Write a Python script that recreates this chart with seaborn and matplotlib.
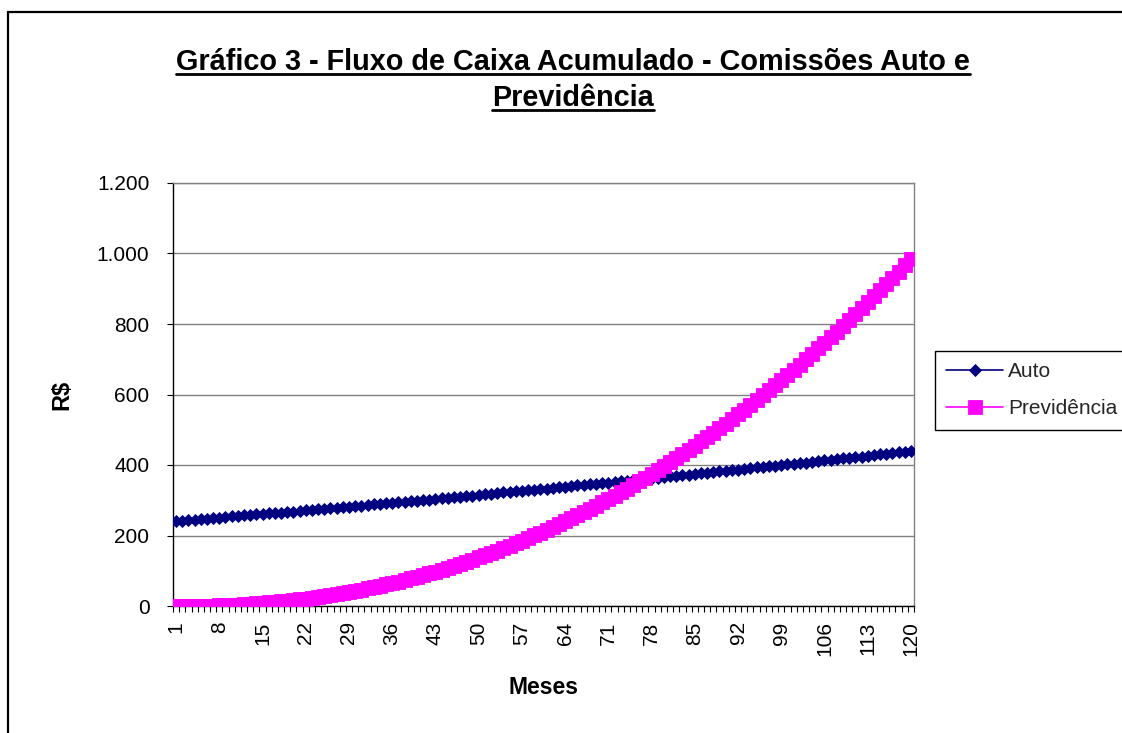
import matplotlib
matplotlib.use("Agg")
import matplotlib.pyplot as plt
import seaborn as sns
import pandas as pd
import numpy as np
from matplotlib.lines import Line2D
from matplotlib.ticker import FuncFormatter, FixedLocator

# ---------------- data ----------------
meses = list(range(1, 121))

auto = [241, 242, 244, 245, 247, 248, 250, 251, 252, 254,
        255, 257, 258, 260, 261, 263, 264, 265, 267, 268,
        270, 271, 273, 274, 276, 277, 279, 280, 282, 284,
        285, 287, 288, 290, 291, 293, 294, 296, 297, 299,
        301, 302, 304, 305, 307, 309, 310, 312, 313, 315,
        317, 318, 320, 322, 323, 325, 327, 328, 330, 332,
        333, 335, 337, 338, 340, 342, 343, 345, 347, 348,
        350, 352, 354, 355, 357, 359, 361, 362, 364, 366,
        368, 369, 371, 373, 375, 376, 378, 380, 382, 384,
        385, 387, 389, 391, 393, 394, 396, 398, 400, 402,
        404, 406, 407, 409, 411, 413, 415, 417, 419, 421,
        422, 424, 426, 428, 430, 432, 434, 436, 438, 440]

previdencia = [0.0, 0.0, 0.1, 0.3, 0.5, 0.9, 1.3, 1.8, 2.5, 3.2,
               4.1, 5.0, 6.1, 7.3, 8.6, 10.0, 11.5, 13.2, 14.9, 16.8,
               18.9, 21.0, 23.3, 25.7, 28.3, 30.9, 33.8, 36.7, 39.8, 43.0,
               46.4, 49.9, 53.5, 57.3, 61.2, 65.3, 69.5, 73.8, 78.3, 83.0,
               87.8, 92.7, 97.8, 103.0, 108.4, 114.0, 119.6, 125.5, 131.5, 137.6,
               143.9, 150.4, 157.0, 163.8, 170.7, 177.8, 185.1, 192.5, 200.1, 207.8,
               215.7, 223.8, 232.0, 240.4, 248.9, 257.6, 266.5, 275.5, 284.7, 294.0,
               303.6, 313.3, 323.2, 333.2, 343.4, 353.8, 364.3, 375.0, 385.9, 396.9,
               408.2, 419.6, 431.2, 442.9, 454.8, 467.0, 479.2, 491.7, 504.2, 517.0,
               530.1, 543.3, 556.6, 570.1, 583.7, 597.6, 611.6, 625.9, 640.3, 654.8,
               669.6, 684.5, 699.7, 714.9, 730.5, 746.2, 761.9, 778.0, 794.2, 810.6,
               827.3, 844.0, 861.0, 878.2, 895.5, 913.0, 930.8, 948.7, 966.7, 984.9]

x_tick_labels = ["1", "8", "15", "22", "29", "36", "43", "50", "57", "64",
                 "71", "78", "85", "92", "99", "106", "113", "120"]
y_ticks = [0, 200, 400, 600, 800, 1000, 1200]

title_lines = ["Gráfico 3 - Fluxo de Caixa Acumulado - Comissões Auto e",
               "Previdência"]
series_names = ["Auto", "Previdência"]

df = pd.DataFrame({"Mês": meses, "Auto": auto, "Previdência": previdencia})

# ---------------- style ----------------
sns.set_theme(style="white")
plt.rcParams["font.family"] = ["Liberation Sans", "DejaVu Sans"]

W, H = 1122, 733
fig = plt.figure(figsize=(W / 100, H / 100), dpi=100)
fig.patch.set_facecolor("white")

ax = fig.add_axes([173 / W, 1 - 606 / H, 741 / W, 423 / H])
ax.set_facecolor("white")

sns.lineplot(data=df, x="Mês", y="Auto", ax=ax, color="#000080",
             marker="D", markersize=6.4, mec="#000080", mew=0.6,
             linewidth=1.2, label=series_names[0], zorder=3)
sns.lineplot(data=df, x="Mês", y="Previdência", ax=ax, color="#FF00FF",
             marker="s", markersize=9.4, mec="#FF00FF", mew=0.6,
             linewidth=1.2, label=series_names[1], zorder=4)

ax.set_xlim(0.5, 120.5)
ax.set_ylim(0, 1200)

# x axis: category style
ax.xaxis.set_major_locator(FixedLocator([int(v) for v in x_tick_labels]))
ax.set_xticklabels(x_tick_labels, rotation=90)
ax.xaxis.set_minor_locator(FixedLocator(np.arange(0.5, 121, 1.0)))
ax.tick_params(axis="x", which="major", length=0, pad=11, labelsize=15,
               labelcolor="black", bottom=True)
ax.tick_params(axis="x", which="minor", length=4, width=0.8, color="black",
               direction="out", bottom=True)

# y axis
ax.set_yticks(y_ticks)
ax.yaxis.set_major_formatter(FuncFormatter(lambda v, p: f"{int(v):,}".replace(",", ".")))
ax.tick_params(axis="y", which="major", length=4, width=0.8, color="black",
               direction="out", pad=13, labelsize=15, labelcolor="black", left=True)

ax.yaxis.grid(True, color="#808080", linewidth=1.0)
ax.xaxis.grid(False)
ax.set_axisbelow(True)

for s in ["left", "bottom"]:
    ax.spines[s].set_color("black")
    ax.spines[s].set_linewidth(1.0)
for s in ["top", "right"]:
    ax.spines[s].set_color("#808080")
    ax.spines[s].set_linewidth(1.0)
    ax.spines[s].set_visible(True)

ax.set_xlabel("Meses", fontsize=16.5, fontweight="bold", color="black")
ax.xaxis.set_label_coords(0.5, (606 - 687) / 423)
ax.xaxis.label.set_va("center")
ax.set_ylabel("R$", fontsize=17, fontweight="bold", color="black")
ax.yaxis.set_label_coords((62 - 173) / 741, 0.5)
ax.yaxis.label.set_va("center")

# legend
handles, labels = ax.get_legend_handles_labels()
leg = ax.legend(handles, labels, loc="upper left",
                bbox_to_anchor=(935 / W, 1 - 351 / H), bbox_transform=fig.transFigure,
                borderaxespad=0, fontsize=15, frameon=True, fancybox=False,
                edgecolor="black", framealpha=1, borderpad=0.55,
                handlelength=2.7, handletextpad=0.25, labelspacing=0.85)
leg.get_frame().set_linewidth(1.0)

# title with underline
baselines = [70, 106]
texts = []
for line, b in zip(title_lines, baselines):
    t = fig.text(573 / W, 1 - b / H, line, ha="center", va="baseline",
                 fontsize=20.8, fontweight="bold", color="black")
    texts.append(t)

fig.canvas.draw()
r = fig.canvas.get_renderer()
for t, b in zip(texts, baselines):
    bb = t.get_window_extent(renderer=r)
    y = 1 - (b + 3.5) / H
    fig.add_artist(Line2D([bb.x0 / W, bb.x1 / W], [y, y], color="black",
                          linewidth=2.0, transform=fig.transFigure))

# outer chart frame (cropped on right/bottom)
fig.add_artist(Line2D([7.5 / W, 7.5 / W], [-0.01, 1 - 12 / H], color="black",
                      linewidth=1.6, transform=fig.transFigure))
fig.add_artist(Line2D([7.5 / W, 1.01], [1 - 12 / H, 1 - 12 / H], color="black",
                      linewidth=1.6, transform=fig.transFigure))

fig.savefig("out.png", dpi=100, facecolor="white")
